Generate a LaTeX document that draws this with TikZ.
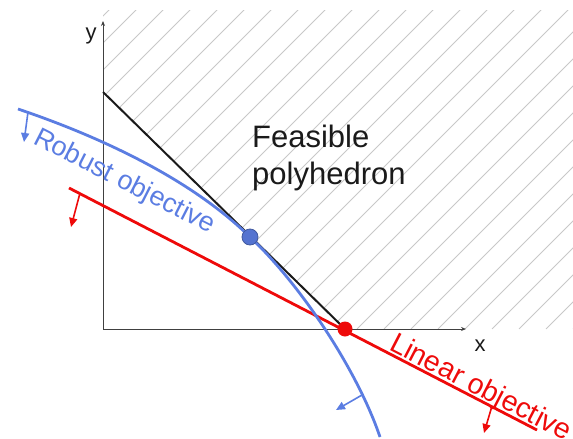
\documentclass[tikz,border=0pt]{standalone}
\usepackage{fontspec}
\setsansfont{Liberation Sans}
\usetikzlibrary{arrows.meta}
\definecolor{ink}{HTML}{1A1A1A}
\definecolor{axisgray}{HTML}{404040}
\definecolor{hatchgray}{HTML}{C8C8C8}
\definecolor{robustblue}{HTML}{5B7DE2}
\definecolor{linearred}{HTML}{EE0A0A}

\begin{document}
\begin{tikzpicture}[
  x=1pt,y=-1pt,font=\sffamily,
  axis/.style={draw=axisgray,line width=.9pt,-{Stealth[length=5pt,width=4pt]}},
  hatch/.style={draw=hatchgray,line width=.9pt},
  boundary/.style={draw=ink,line width=2pt},
  robust/.style={draw=robustblue,line width=2.8pt},
  linear/.style={draw=linearred,line width=2.8pt},
  descent/.style={line width=1.6pt,-{Triangle[length=9pt,width=8pt]}},
  axislabel/.style={font=\sffamily\fontsize{22}{24}\selectfont,text=ink},
  curvelabel/.style={font=\sffamily\fontsize{27}{30}\selectfont,anchor=base west,inner sep=0pt},
  region/.style={font=\sffamily\fontsize{31}{37}\selectfont,text=ink,align=left,anchor=north west,inner sep=0pt}
]
\useasboundingbox (0,0) rectangle (573,439);

% feasible region
\begin{scope}
\clip (103,10) -- (103,92) -- (345,329) -- (573,329) -- (573,10) -- cycle;
\foreach \k in {-26,...,4}{\draw[hatch] ({465+27*\k},329) -- ++(400,-400);}
\end{scope}

% axes
\coordinate (O) at (103,329);
\draw[axis] (O) -- (103,21);
\draw[axis] (O) -- (466,329);
\node[axislabel] (ylabel) at (91,36) {y};
\node[axislabel] (xlabel) at (480,346) {x};

\coordinate (top) at (103,92);
\coordinate (linopt) at (345,329);
\coordinate (robopt) at (250,237);
\draw[boundary] (top) -- (linopt);
\node[region] (feasible) at (252,125) {Feasible\\polyhedron};

% linear objective
\draw[linear] (69,188) -- (537,430);
\draw[descent,draw=linearred] (80,193) -- (71,227);
\draw[descent,draw=linearred] (492,406) -- (484,433);
\node[curvelabel,text=linearred,rotate=-27.4,font=\sffamily\fontsize{28.5}{30}\selectfont] (linlabel) at (388,349) {Linear objective};

% robust objective
\draw[robust] (18,109) .. controls (98,136) and (190,178) .. (robopt)
  .. controls (302,286) and (358,372) .. (380,437);
\draw[descent,draw=robustblue] (28,112) -- (24,142);
\draw[descent,draw=robustblue] (362,395) -- (336,410);
\node[curvelabel,text=robustblue,rotate=-27] (roblabel) at (32,143) {Robust objective};

% optima
\filldraw[fill=robustblue!92!black,draw=robustblue!70!black,line width=.8pt] (robopt) circle (8pt);
\fill[linearred] (linopt) circle (7.5pt);
\end{tikzpicture}
\end{document}
